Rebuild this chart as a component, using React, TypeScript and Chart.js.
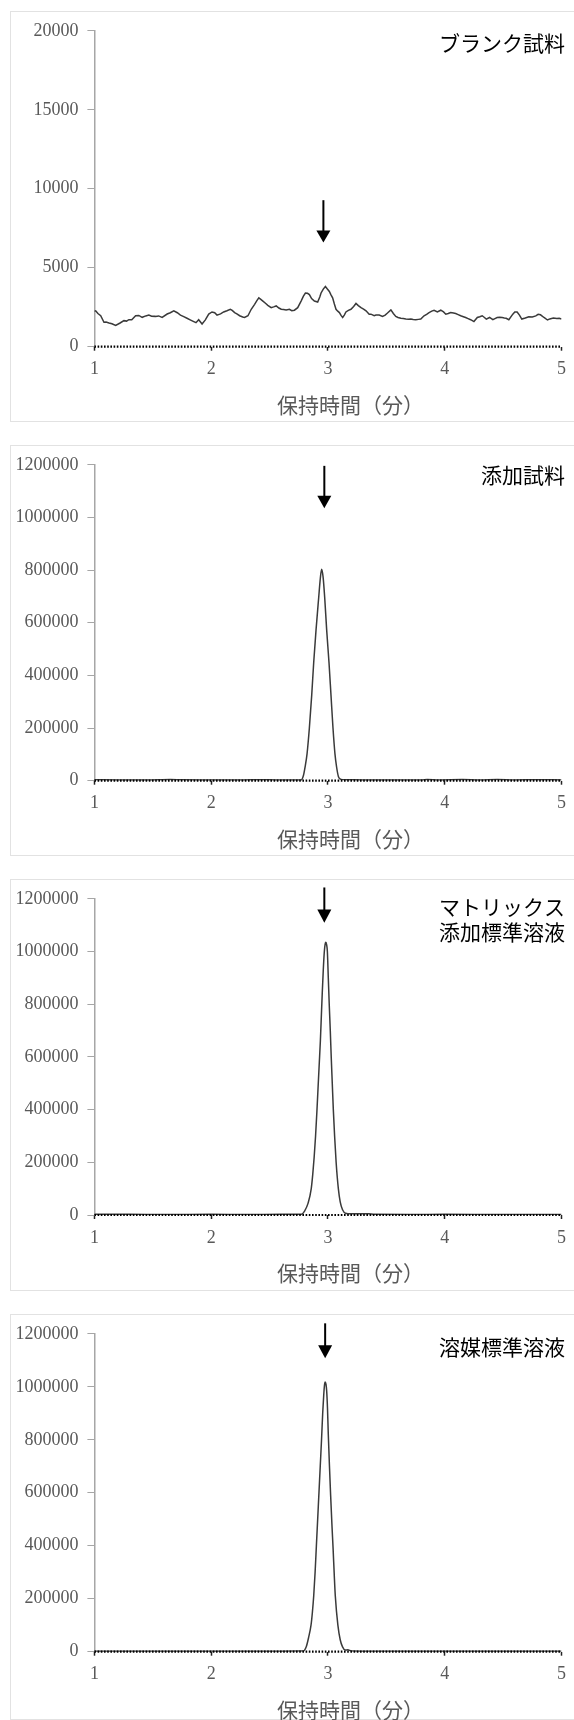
import React, { useEffect, useRef } from "react";
import { Chart, registerables } from "chart.js";

Chart.register(...registerables);

// ---------- data ----------
const xTickValues = [1, 2, 3, 4, 5];
const axisTitle = "保持時間（分）";

const panelTitles = [["ブランク試料"], ["添加試料"], ["マトリックス", "添加標準溶液"], ["溶媒標準溶液"]];
const yMaxima = [20000, 1200000, 1200000, 1200000];
const ySteps = [5000, 200000, 200000, 200000];

const arrowTime = [2.961, 2.969, 2.969, 2.976];
const arrowTop = [9276, 1196000, 1243000, 1239500];
const arrowHeadStart = [7359, 1082000, 1159000, 1157000];
const arrowTip = [6599, 1034700, 1109000, 1107700];

const blankTime = [
  1.0, 1.011, 1.03, 1.054, 1.082, 1.1, 1.125, 1.15, 1.182, 1.22, 1.253, 1.275, 1.295, 1.32, 1.353, 1.38, 1.409, 1.44,
  1.466, 1.49, 1.523, 1.55, 1.58, 1.623, 1.65, 1.68, 1.71, 1.737, 1.765, 1.793, 1.82, 1.851, 1.87, 1.893, 1.922, 1.95,
  1.979, 2.007, 2.03, 2.05, 2.08, 2.107, 2.135, 2.164, 2.18, 2.201, 2.22, 2.244, 2.27, 2.286, 2.315, 2.343, 2.372, 2.39,
  2.408, 2.425, 2.443, 2.465, 2.485, 2.514, 2.535, 2.557, 2.58, 2.6, 2.62, 2.642, 2.67, 2.69, 2.713, 2.741, 2.77, 2.79,
  2.807, 2.825, 2.841, 2.86, 2.884, 2.912, 2.93, 2.941, 2.96, 2.978, 2.995, 3.012, 3.025, 3.04, 3.055, 3.069, 3.084,
  3.098, 3.112, 3.126, 3.14, 3.154, 3.175, 3.197, 3.22, 3.24, 3.26, 3.283, 3.305, 3.326, 3.353, 3.368, 3.396, 3.411,
  3.439, 3.467, 3.49, 3.51, 3.539, 3.56, 3.581, 3.6, 3.624, 3.645, 3.667, 3.69, 3.71, 3.73, 3.752, 3.775, 3.795, 3.823,
  3.845, 3.866, 3.889, 3.909, 3.937, 3.966, 3.99, 4.009, 4.03, 4.051, 4.075, 4.094, 4.115, 4.137, 4.16, 4.179, 4.2,
  4.222, 4.25, 4.279, 4.3, 4.321, 4.34, 4.356, 4.384, 4.412, 4.43, 4.449, 4.47, 4.492, 4.51, 4.526, 4.549, 4.583, 4.6,
  4.62, 4.64, 4.66, 4.69, 4.72, 4.75, 4.78, 4.8, 4.82, 4.85, 4.88, 4.9, 4.93, 4.96, 4.98, 5.0,
];
const blankSignal = [
  2250, 2270, 2100, 1960, 1546, 1560, 1500, 1450, 1342, 1500, 1650, 1620, 1710, 1700, 1960, 1980, 1860, 1950,
  2000, 1930, 1920, 1950, 1860, 2070, 2150, 2270, 2150, 2000, 1900, 1800, 1700, 1590, 1520, 1710, 1440, 1700,
  2070, 2200, 2150, 2000, 2080, 2200, 2280, 2370, 2300, 2160, 2080, 1960, 1880, 1850, 1960, 2370, 2680, 2900,
  3090, 3000, 2890, 2750, 2620, 2470, 2520, 2580, 2450, 2370, 2350, 2330, 2370, 2280, 2310, 2470, 2890, 3200,
  3400, 3380, 3300, 3050, 2890, 2830, 3150, 3400, 3650, 3815, 3650, 3500, 3300, 3090, 2700, 2370, 2250,
  2160, 1980, 1850, 2000, 2200, 2300, 2370, 2550, 2740, 2600, 2470, 2380, 2270, 2060, 2060, 1960, 2000,
  2000, 1920, 2000, 2130, 2330, 2100, 1920, 1850, 1800, 1780, 1750, 1740, 1750, 1720, 1710, 1730, 1750, 1960,
  2050, 2160, 2250, 2310, 2200, 2310, 2200, 2060, 2100, 2160, 2130, 2100, 2030, 1960, 1900, 1850, 1780,
  1710, 1590, 1850, 1900, 1960, 1850, 1750, 1850, 1710, 1780, 1850, 1860, 1850, 1820, 1800, 1710, 2060, 2200,
  2200, 2000, 1750, 1820, 1900, 1880, 1950, 2050, 2020, 1850, 1690, 1760, 1810, 1780, 1800, 1750,
];

const spikedTime = [
  1.0, 1.2, 1.45, 1.65, 1.75, 2.0, 2.2, 2.35, 2.55, 2.7, 2.77, 2.79, 2.804, 2.821, 2.841, 2.861, 2.878, 2.898, 2.921,
  2.935, 2.946, 2.958, 2.972, 2.989, 3.009, 3.026, 3.043, 3.06, 3.074, 3.09, 3.112, 3.15, 3.3, 3.5, 3.8, 3.85, 3.95,
  4.15, 4.3, 4.45, 4.6, 4.8, 5.0,
];
const spikedSignal = [
  3500, 3000, 2500, 4500, 3500, 3000, 2500, 3500, 3000, 2500, 3000, 20000, 52000, 102000, 201000, 325000, 449000,
  573000, 697000, 770000, 803000, 775000, 697000, 573000, 449000, 325000, 201000, 102000, 52000, 15000, 5000, 4000,
  3000, 2500, 3000, 5000, 3000, 4500, 3000, 4500, 3000, 3500, 3000,
];

const matrixTime = [
  1.0, 1.3, 1.6, 2.0, 2.3, 2.6, 2.773, 2.8, 2.83, 2.857, 2.87, 2.882, 2.894, 2.905, 2.915, 2.925, 2.935, 2.943, 2.951,
  2.96, 2.969, 2.976, 2.982, 2.989, 2.995, 3.003, 3.011, 3.02, 3.028, 3.037, 3.046, 3.057, 3.07, 3.089, 3.105, 3.125,
  3.15, 3.2, 3.3, 3.35, 3.4, 3.7, 4.0, 4.5, 5.0,
];
const matrixSignal = [
  2500, 2500, 2000, 2500, 2000, 2500, 3000, 15000, 45000, 100000, 155000, 220000, 300000, 390000, 480000, 570000,
  660000, 750000, 840000, 930000, 1000000, 1028000, 1035000, 1025000, 1000000, 900000, 800000, 700000, 600000,
  500000, 400000, 300000, 200000, 100000, 50000, 20000, 7000, 5000, 5000, 4500, 2500, 2000, 2500, 2000, 2000,
];

const solventTime = [
  1.0, 1.4, 1.8, 2.2, 2.6, 2.788, 2.815, 2.835, 2.855, 2.867, 2.878, 2.89, 2.901, 2.912, 2.923, 2.934, 2.945, 2.955,
  2.964, 2.97, 2.976, 2.983, 2.989, 2.996, 3.003, 3.013, 3.023, 3.034, 3.044, 3.054, 3.063, 3.085, 3.105, 3.125, 3.148,
  3.17, 3.2, 3.4, 3.8, 4.2, 4.6, 5.0,
];
const solventSignal = [
  2000, 2000, 2000, 2000, 2000, 2500, 20000, 55000, 100000, 150000, 210000, 300000, 400000, 500000, 600000, 700000,
  800000, 900000, 970000, 1005000, 1018000, 1010000, 985000, 920000, 820000, 700000, 590000, 480000, 390000, 290000,
  210000, 100000, 45000, 18000, 6000, 7000, 3000, 2000, 2000, 2000, 2000, 2000,
];

const seriesTimes = [blankTime, spikedTime, matrixTime, solventTime];
const seriesSignals = [blankSignal, spikedSignal, matrixSignal, solventSignal];

// ---------- layout (page pixels) ----------
const PAGE_W = 574;
const PAGE_H = 1720;
const boxTops = [11, 445, 879, 1314];
const boxHeights = [411, 411, 412, 406];
const plotTops = [23.3, 458.3, 892.3, 1326.7];
const plotZeros = [346.7, 780.7, 1215, 1651.7];
const titleLineYs = [[43.3], [475], [906.7, 931.7], [1346.7]];
const PLOT_LEFT = 94.4;
const PLOT_RIGHT = 563;

const TICK_FONT = { family: "'Liberation Serif', 'Times New Roman', serif", size: 18 };
const CJK = "'Noto Sans CJK JP', 'Noto Sans', sans-serif";

function Panel({ idx }: { idx: number }) {
  const ref = useRef<HTMLCanvasElement | null>(null);
  const top = boxTops[idx];
  const h = boxHeights[idx];

  useEffect(() => {
    const canvas = ref.current;
    if (!canvas) return;
    const times = seriesTimes[idx];
    const sigs = seriesSignals[idx];
    const points = times.map((t, i) => ({ x: t, y: sigs[i] }));
    const plotTopRel = plotTops[idx] - top;
    const zeroRel = plotZeros[idx] - top;

    const overlay = {
      id: "overlay",
      afterDatasetsDraw(chart: any) {
        const ctx = chart.ctx;
        const ys = chart.scales.y;
        const area = chart.chartArea;
        const y0 = ys.getPixelForValue(0);
        ctx.save();
        ctx.strokeStyle = "#000";
        ctx.lineWidth = 2.2;
        ctx.setLineDash([1.6, 1.6]);
        ctx.beginPath();
        ctx.moveTo(area.left, y0);
        ctx.lineTo(area.right, y0);
        ctx.stroke();
        ctx.restore();
      },
      afterDraw(chart: any) {
        const ctx = chart.ctx;
        const xs = chart.scales.x;
        const ys = chart.scales.y;
        const area = chart.chartArea;
        ctx.save();
        // arrow
        const ax = xs.getPixelForValue(arrowTime[idx]);
        const yTop = ys.getPixelForValue(arrowTop[idx]);
        const yHead = ys.getPixelForValue(arrowHeadStart[idx]);
        const yTip = ys.getPixelForValue(arrowTip[idx]);
        ctx.strokeStyle = "#000";
        ctx.fillStyle = "#000";
        ctx.lineWidth = 2;
        ctx.beginPath();
        ctx.moveTo(ax, yTop);
        ctx.lineTo(ax, yHead + 1);
        ctx.stroke();
        ctx.beginPath();
        ctx.moveTo(ax - 7, yHead);
        ctx.lineTo(ax + 7, yHead);
        ctx.lineTo(ax, yTip);
        ctx.closePath();
        ctx.fill();
        // axis title
        ctx.font = `21px ${CJK}`;
        ctx.fillStyle = "#595959";
        ctx.textAlign = "left";
        ctx.textBaseline = "middle";
        ctx.fillText(axisTitle, area.left + 182.5, area.bottom + 58.5);
        // panel title
        ctx.fillStyle = "#000";
        ctx.textAlign = "right";
        panelTitles[idx].forEach((line, i) => {
          ctx.fillText(line, area.right + 3.5, titleLineYs[idx][i] - top);
        });
        ctx.restore();
      },
    };

    const chart = new Chart(canvas, {
      type: "line",
      data: {
        datasets: [
          {
            data: points,
            borderColor: "#3a3a3a",
            borderWidth: 1.5,
            pointRadius: 0,
            fill: false,
            tension: 0,
            cubicInterpolationMode: idx === 0 ? "default" : "monotone",
          },
        ],
      },
      options: {
        responsive: false,
        animation: false,
        events: [],
        layout: { padding: { top: plotTopRel, left: 0, right: PAGE_W - PLOT_RIGHT, bottom: 0 } },
        plugins: { legend: { display: false }, tooltip: { enabled: false }, title: { display: false } },
        scales: {
          x: {
            type: "linear",
            min: xTickValues[0],
            max: xTickValues[xTickValues.length - 1],
            afterBuildTicks: (scale: any) => {
              scale.ticks = xTickValues.map((v) => ({ value: v }));
            },
            afterFit: (scale: any) => {
              scale.height = h - zeroRel;
            },
            ticks: { color: "#595959", font: TICK_FONT, padding: 8, maxRotation: 0, autoSkip: false },
            grid: {
              drawOnChartArea: false,
              drawTicks: true,
              tickLength: 4,
              tickColor: "#222",
              tickWidth: 1.5,
            },
            border: { display: false },
          },
          y: {
            type: "linear",
            min: 0,
            max: yMaxima[idx],
            afterFit: (scale: any) => {
              scale.width = PLOT_LEFT;
            },
            ticks: {
              stepSize: ySteps[idx],
              color: "#595959",
              font: TICK_FONT,
              padding: 9,
              callback: (v: any) => String(v),
            },
            grid: { drawOnChartArea: false, drawTicks: true, tickLength: 7, color: "#a6a6a6", lineWidth: 1 },
            border: { display: true, color: "#a6a6a6", width: 1.5 },
          },
        },
      },
      plugins: [overlay],
    } as any);
    return () => chart.destroy();
  }, [idx]);

  return (
    <>
      <div
        style={{
          position: "absolute",
          left: 10,
          top,
          width: PAGE_W,
          height: h,
          border: "1px solid #e2e2e2",
          boxSizing: "border-box",
        }}
      />
      <canvas ref={ref} width={PAGE_W} height={h} style={{ position: "absolute", left: 0, top, width: PAGE_W, height: h }} />
    </>
  );
}

export default function App() {
  return (
    <div
      style={{
        position: "absolute",
        left: 0,
        top: 0,
        width: PAGE_W,
        height: PAGE_H,
        overflow: "hidden",
        background: "#fff",
      }}
    >
      {[0, 1, 2, 3].map((i) => (
        <Panel key={i} idx={i} />
      ))}
    </div>
  );
}
